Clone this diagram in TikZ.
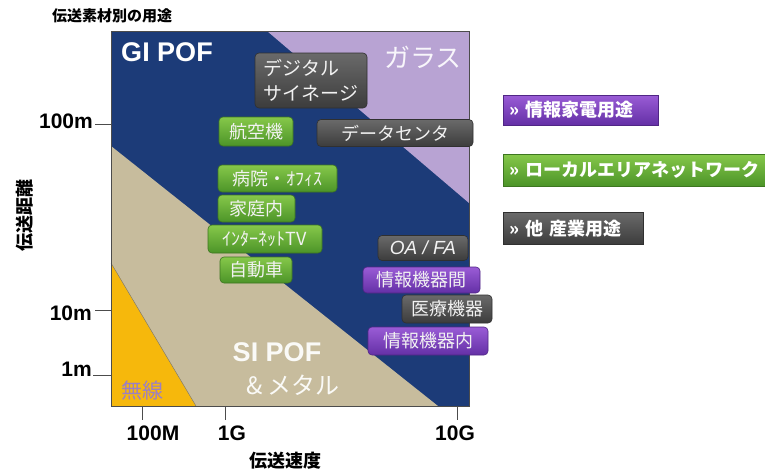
\documentclass[tikz,border=0pt]{standalone}
\usepackage{fontspec}
\newfontfamily\jp{Noto Sans CJK JP}
\newfontfamily\lat{Liberation Sans}
\definecolor{cNavy}{HTML}{1C3B78}
\definecolor{cLav}{HTML}{B8A3D3}
\definecolor{cTan}{HTML}{C7BC9D}
\definecolor{cYel}{HTML}{F6B80C}
\definecolor{cTxt}{HTML}{F2F2F2}
\definecolor{gTop}{HTML}{86C84A}
\definecolor{gBot}{HTML}{4C9428}
\definecolor{pTop}{HTML}{9A5CD6}
\definecolor{pBot}{HTML}{6430A6}
\definecolor{kTop}{HTML}{6A6A6A}
\definecolor{kBot}{HTML}{3C3C3C}
\definecolor{cMusen}{HTML}{9B7FC4}
\tikzset{
  tag/.style={rounded corners=4pt, inner sep=0pt, text=cTxt, line width=0.6pt,
              font=\jp\fontsize{18}{24}\selectfont},
  greentag/.style={tag, draw=gBot!80!black, top color=gTop, bottom color=gBot},
  purpletag/.style={tag, draw=pBot!80!black, top color=pTop, bottom color=pBot},
  graytag/.style={tag, draw=kBot!80!black, top color=kTop, bottom color=kBot},
  legendbox/.style={rounded corners=0pt, anchor=west, font=\jp\bfseries\fontsize{18}{20}\selectfont, text=white, align=left},
  ticklab/.style={font=\lat\bfseries\fontsize{21}{22}\selectfont, text=black, inner sep=0pt},
  axtitle/.style={font=\jp\bfseries\fontsize{18}{20}\selectfont, text=black, inner sep=0pt},
  tick/.style={draw=black!70, line width=0.7pt}
}
\begin{document}
\begin{tikzpicture}[x=1pt,y=-1pt]
\useasboundingbox (0,0) rectangle (765,472);
\fill[white] (0,0) rectangle (765,472);
% regions
\fill[cNavy] (111,31) rectangle (469,406);
\fill[cLav] (267,31) -- (469,31) -- (469,203) -- cycle;
\fill[cTan] (111,146) -- (438,406) -- (111,406) -- cycle;
\fill[cYel] (111,263) -- (196,406) -- (111,406) -- cycle;
\draw[black!55, line width=0.4pt] (111,263) -- (196,406);
\draw[black!70, line width=0.8pt] (111,31) rectangle (469,406);
% region labels
\node[font=\lat\bfseries\fontsize{27}{28}\selectfont, text=white, inner sep=0] (gipof) at (167,52) {GI POF};
\node[font=\jp\fontsize{26}{28}\selectfont, text=white!90!cLav, inner sep=0] (glass) at (423,57) {ガラス};
\node[font=\lat\bfseries\fontsize{27}{28}\selectfont, text=white!92!cTan, inner sep=0] (sipof) at (277,352) {SI POF};
\node[font=\jp\fontsize{24}{26}\selectfont, text=white!92!cTan, inner sep=0] (metal) at (293,385) {\& メタル};
\node[font=\jp\fontsize{21}{22}\selectfont, text=cMusen, inner sep=0] (musen) at (142,391) {無線};
% title
\node[axtitle, font=\jp\bfseries\fontsize{15}{16}\selectfont, anchor=west] (title) at (52,16) {伝送素材別の用途};
% y ticks
\coordinate (y100) at (111,124); \coordinate (y10) at (111,310); \coordinate (y1) at (111,375);
\coordinate (y100a) at (95,124); \coordinate (y10a) at (95,310); \coordinate (y1a) at (93,375);
\draw[tick] (y100a) -- (y100); \draw[tick] (y10a) -- (y10); \draw[tick] (y1a) -- (y1);
\node[ticklab, anchor=east] (l100m) at (93,121) {100m};
\node[ticklab, anchor=east] (l10m) at (92,313) {10m};
\node[ticklab, anchor=east] (l1m) at (92,369) {1m};
% x ticks
\coordinate (x100) at (142,406); \coordinate (x1) at (225,406); \coordinate (x10) at (457,406);
\coordinate (x100b) at (142,420); \coordinate (x1b) at (225,420); \coordinate (x10b) at (457,420);
\draw[tick] (x100) -- (x100b); \draw[tick] (x1) -- (x1b); \draw[tick] (x10) -- (x10b);
\node[ticklab] (l100M) at (153,433) {100M};
\node[ticklab] (l1G) at (232,433) {1G};
\node[ticklab] (l10G) at (455,433) {10G};
\node[axtitle] (xtitle) at (285,461) {伝送速度};
\node[axtitle, rotate=90] (ytitle) at (25,215) {伝送距離};
% application tags
\node[graytag, minimum width=112, minimum height=55, align=left, font=\jp\fontsize{19}{25}\selectfont] (sign) at (311,80.5) {デジタル\\サイネージ};
\node[greentag, minimum width=74, minimum height=29] (kouku) at (256,131.5) {航空機};
\node[graytag, minimum width=156, minimum height=27] (data) at (395,133) {データセンタ};
\node[greentag, minimum width=119, minimum height=27] (byoin) at (277.5,178.5) {病院・ｵﾌｨｽ};
\node[greentag, minimum width=77, minimum height=27] (katei) at (256.5,208.5) {家庭内};
\node[greentag, minimum width=114, minimum height=28] (inet) at (265,239) {ｲﾝﾀｰﾈｯﾄTV};
\node[greentag, minimum width=72, minimum height=26] (jido) at (256,270) {自動車};
\node[graytag, minimum width=90, minimum height=25, font=\lat\itshape\fontsize{19}{20}\selectfont] (oafa) at (423,248) {OA / FA};
\node[purpletag, minimum width=117, minimum height=26] (kan) at (421.5,280) {情報機器間};
\node[graytag, minimum width=90, minimum height=28] (iryo) at (447,309) {医療機器};
\node[purpletag, minimum width=120, minimum height=28] (nai) at (428,341) {情報機器内};
% legend
\node[purpletag, legendbox, minimum width=155, minimum height=30, text width=148] (leg1) at (503,110) {\hspace*{3pt}» 情報家電用途};
\node[greentag, legendbox, minimum width=262, minimum height=32, text width=255] (leg2) at (503,170) {\hspace*{3pt}» ローカルエリアネットワーク};
\node[graytag, legendbox, minimum width=140, minimum height=32, text width=133] (leg3) at (503,228.5) {\hspace*{3pt}» 他 産業用途};
\end{tikzpicture}
\end{document}
